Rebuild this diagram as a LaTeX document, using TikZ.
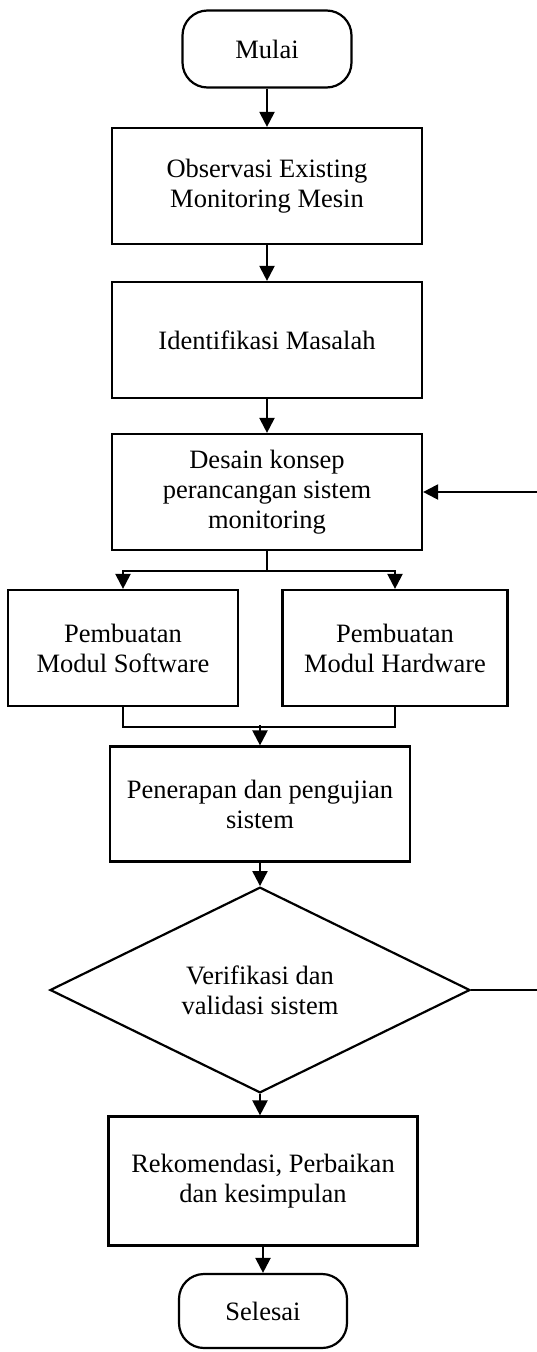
\documentclass[tikz,border=0pt]{standalone}
\usepackage{fontspec}
\setmainfont{Liberation Serif}
\usetikzlibrary{shapes, arrows, arrows.meta}
\tikzstyle{startstop} = [rectangle, rounded corners=25pt, minimum width=169pt, minimum height=77pt, text centered, draw=black, line width=2.2pt]
\tikzstyle{process} = [rectangle, minimum width=310pt, minimum height=116pt, text centered, draw=black, line width=2.2pt]
\tikzstyle{decision} = [diamond, minimum width=420pt, minimum height=192pt, inner sep=0pt, text centered, draw=black, line width=2.2pt]
\tikzstyle{line} = [line width=2.2pt]
\tikzstyle{arrow} = [line width=2.2pt,->,>={Triangle[length=15pt,width=15pt]}]

\begin{document}
\begin{tikzpicture}[node distance=154pt, every node/.style={font=\fontsize{26.5}{30}\selectfont}, align=center]
\useasboundingbox (0,0) rectangle (537pt,-1352pt);
\node (start) [startstop] at (267pt,-49pt) {Mulai};

%Persiapan
\node (obs) [process, below of=start, yshift=17pt] {Observasi Existing\\Monitoring Mesin};
\node (iden) [process, below of=obs] {Identifikasi Masalah};
\node (desain) [process, below of=iden, yshift=2pt] {Desain konsep\\perancangan sistem\\monitoring};

%Pembuatan modul
\node (soft) [process, minimum width=230pt, below of=desain, xshift=-144pt, yshift=-2pt] {Pembuatan\\Modul Software};
\node (hard) [process, minimum width=225pt, below of=desain, xshift=128pt, yshift=-2pt] {Pembuatan\\Modul Hardware};

%Pengujian
\node (pen) [process, minimum width=300pt, minimum height=115pt, below of=soft, xshift=137pt, yshift=-2pt] {Penerapan dan pengujian\\sistem};
\node (verif) [decision, below of=pen, yshift=-32pt] {Verifikasi dan\\validasi sistem};
\node (rek) [process, minimum width=309pt, minimum height=129pt, below of=verif, xshift=3pt, yshift=-37pt] {Rekomendasi, Perbaikan\\dan kesimpulan};
\node (end) [startstop, minimum width=168pt, minimum height=74pt, below of=rek, yshift=24pt] {Selesai};

\draw [arrow] (start.south) -- (obs.north);
\draw [arrow] (obs.south) -- (iden.north);
\draw [arrow] (iden.south) -- (desain.north);
\draw [arrow] (desain.south) -- ++(0,-20pt) -| (soft.north);
\draw [arrow] (desain.south) -- ++(0,-20pt) -| (hard.north);
\draw [line] (soft.south) -- ++(0,-20pt) -| (hard.south);
\draw [arrow] (pen.north)++(0,20pt) -- (pen.north);
\draw [arrow] (pen.south) -- (verif.north);
\draw [arrow] (verif.south) -- (verif.south |- rek.north);
\draw [arrow] (rek.south) -- (end.north);

%Kembali ke desain
\draw [arrow] (verif.east) -- ++(76pt,0) |- (desain.east);
\end{tikzpicture}
\end{document}
